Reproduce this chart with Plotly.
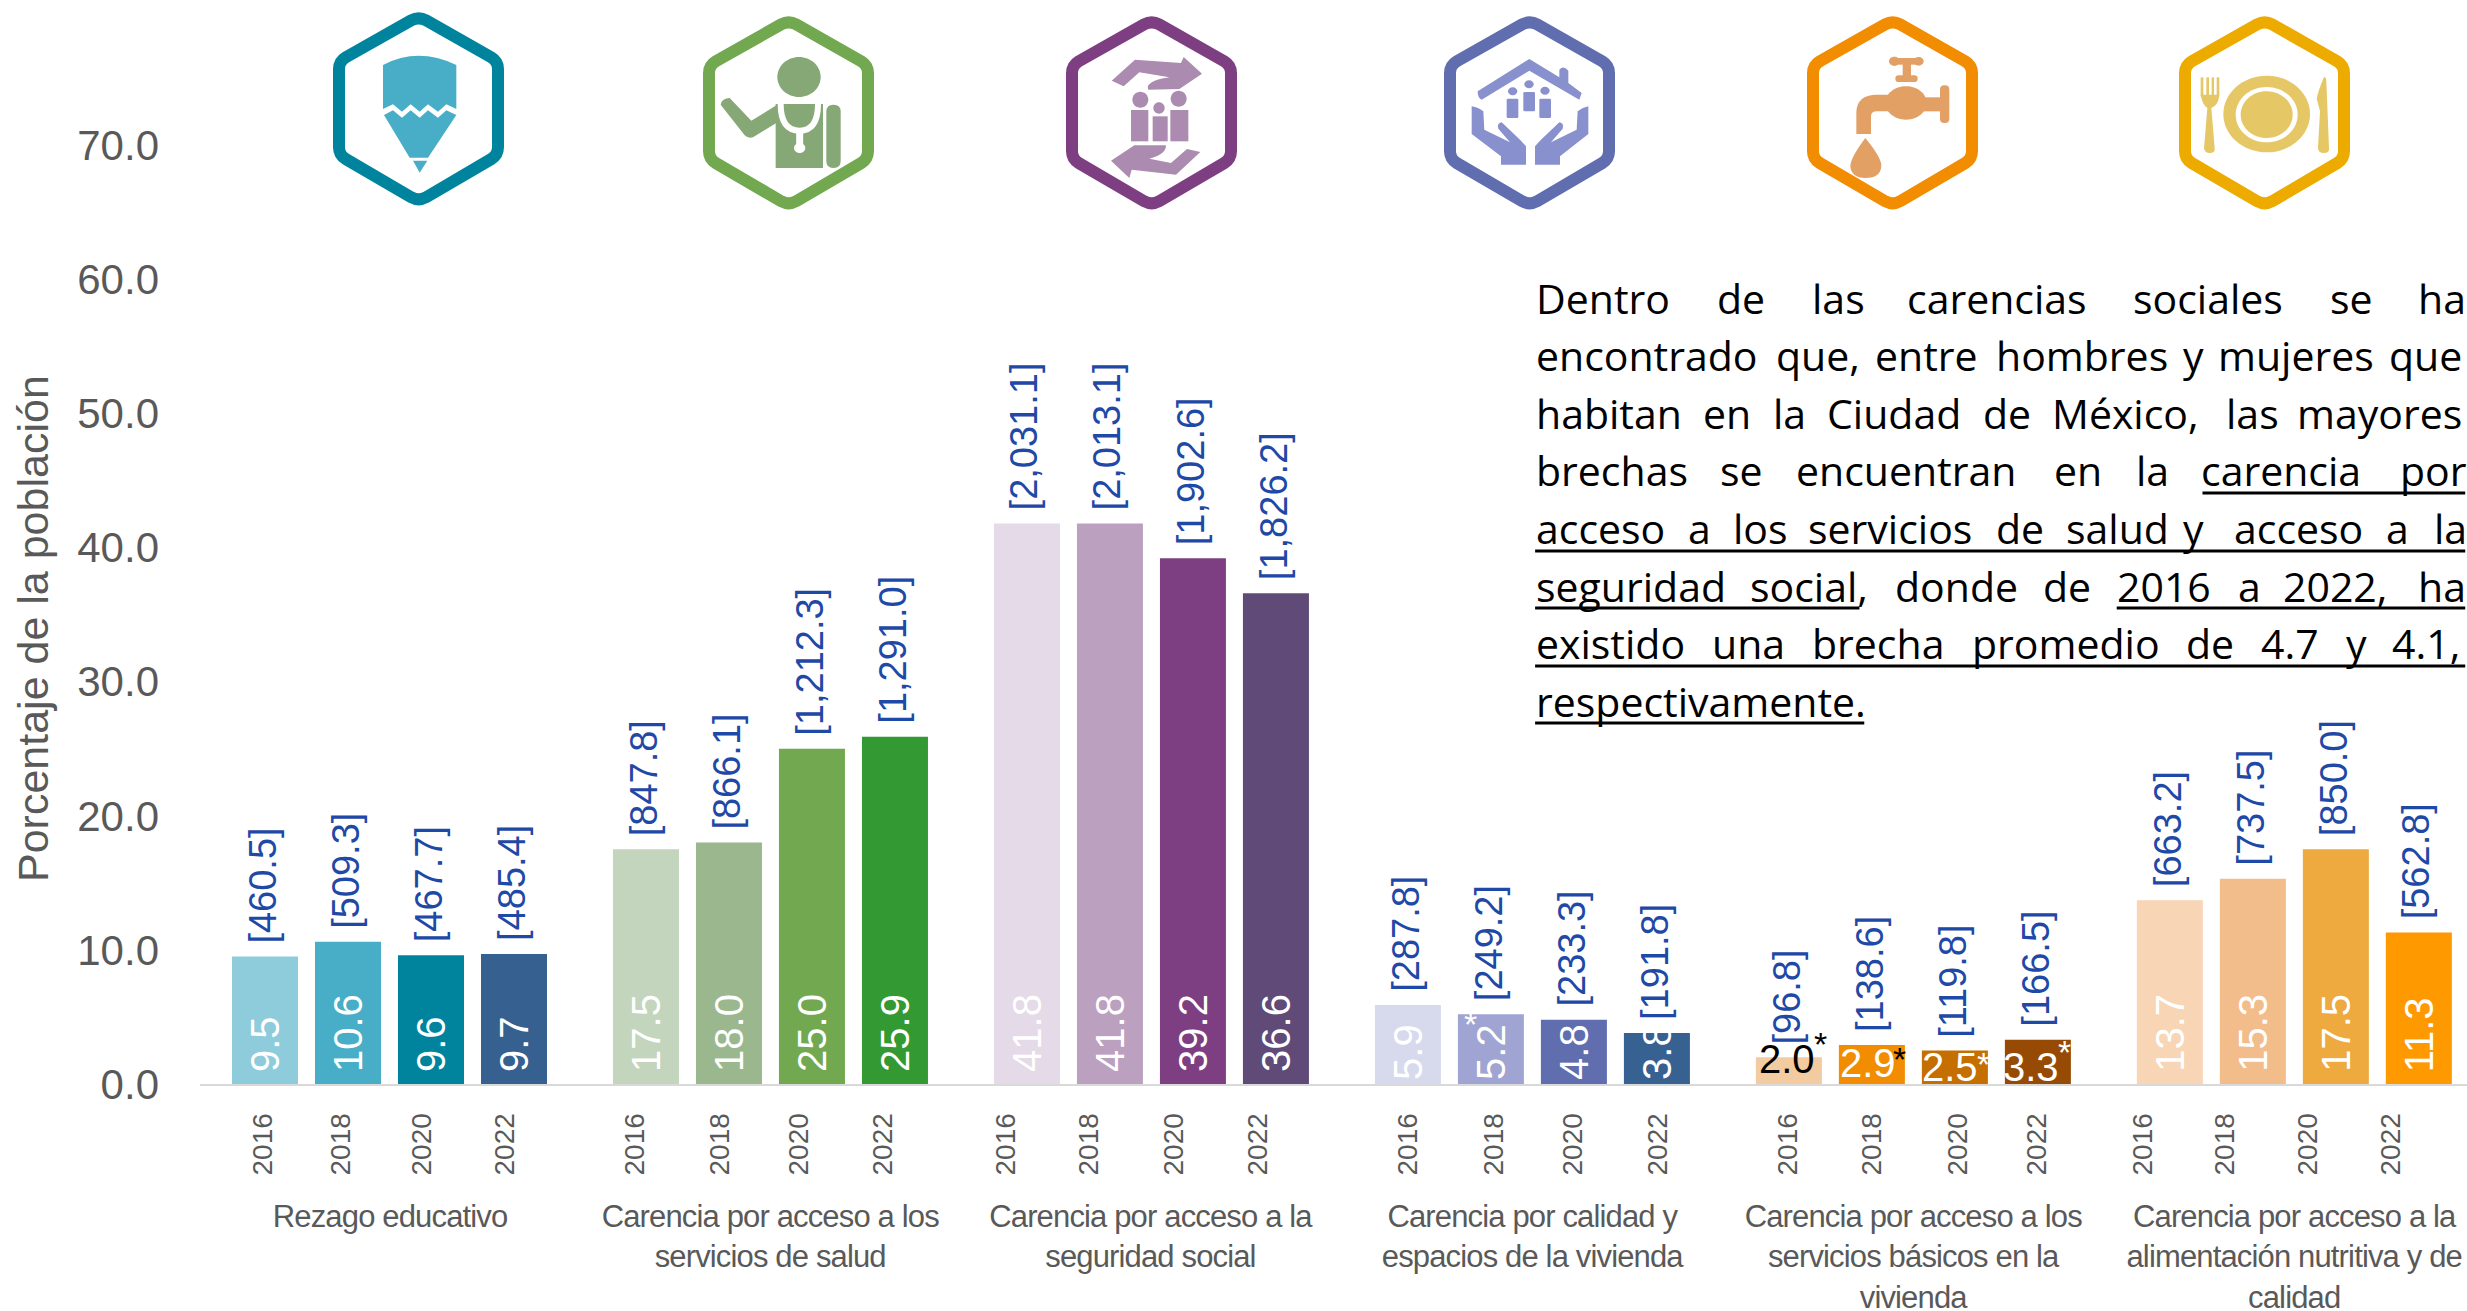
import re
import plotly.graph_objects as go

W, H = 2467, 1311
PLOT_L, PLOT_B = 200, 1084      # pixel edges of the plotting area
PX_PER_SLOT = 83.0

categories = [
    "Rezago educativo",
    "Carencia por acceso a los<br>servicios de salud",
    "Carencia por acceso a la<br>seguridad social",
    "Carencia por calidad y<br>espacios de la vivienda",
    "Carencia por acceso a los<br>servicios básicos en la<br>vivienda",
    "Carencia por acceso a la<br>alimentación nutritiva y de<br>calidad",
]
years = ["2016", "2018", "2020", "2022"]

rezago = [9.5, 10.6, 9.6, 9.7]
salud = [17.5, 18.0, 25.0, 25.9]
seguridad = [41.8, 41.8, 39.2, 36.6]
vivienda = [5.9, 5.2, 4.8, 3.8]
basicos = [2.0, 2.9, 2.5, 3.3]
alimentacion = [13.7, 15.3, 17.5, 11.3]
series = [rezago, salud, seguridad, vivienda, basicos, alimentacion]

pob_rezago = ["460.5", "509.3", "467.7", "485.4"]
pob_salud = ["847.8", "866.1", "1,212.3", "1,291.0"]
pob_seguridad = ["2,031.1", "2,013.1", "1,902.6", "1,826.2"]
pob_vivienda = ["287.8", "249.2", "233.3", "191.8"]
pob_basicos = ["96.8", "138.6", "119.8", "166.5"]
pob_alimentacion = ["663.2", "737.5", "850.0", "562.8"]
poblacion = [pob_rezago, pob_salud, pob_seguridad, pob_vivienda, pob_basicos, pob_alimentacion]

colors = [
    ["#8ECCDB", "#48AEC7", "#00849E", "#36608F"],
    ["#C3D5BC", "#9AB78D", "#72A950", "#339933"],
    ["#E4DAE8", "#BBA0BF", "#7E3F82", "#604A78"],
    ["#D7DAED", "#A0A4D2", "#606EB0", "#366190"],
    ["#F3CBA0", "#F28C00", "#C46F00", "#964A04"],
    ["#F7D5B5", "#F3BC8B", "#EEA93F", "#FF9900"],
]

GROUP_STEP = 4.59
GREY = "#595959"
BLUE = "#1F49A6"

fig = go.Figure()
annotations = []


def slot(g, j):
    return g * GROUP_STEP + j


# ----- bars
for g, vals in enumerate(series):
    fig.add_trace(go.Bar(
        x=[slot(g, j) for j in range(4)], y=vals, width=66 / PX_PER_SLOT,
        marker=dict(color=colors[g], line_width=0),
        hoverinfo="skip", showlegend=False,
    ))

# ----- value labels and population labels
base_gap = [10, 10, 10, 2, 0, 10]
for g, vals in enumerate(series):
    for j, v in enumerate(vals):
        annotations.append(dict(
            x=slot(g, j), y=v, xref="x", yref="y", yanchor="bottom", xanchor="center",
            xshift=-2, yshift=11, text=f"[{poblacion[g][j]}]", textangle=-90, showarrow=False,
            font=dict(family="Liberation Sans", size=38, color=BLUE)))
        if g == 4:
            continue
        annotations.append(dict(
            x=slot(g, j), y=0, xref="x", yref="y", yanchor="bottom", xanchor="center",
            yshift=base_gap[g], text=f"{v:.1f}", textangle=-90, showarrow=False,
            font=dict(family="Liberation Sans", size=40, color="white")))

# horizontal labels of the services group
label_colors = ["black", "white", "white", "white"]
label_shift = [(-2, 25), (-4, 21), (-5, 17), (-7, 17)]
for j, v in enumerate(basicos):
    annotations.append(dict(
        x=slot(4, j), y=0, xref="x", yref="y", yanchor="middle", xanchor="center",
        xshift=label_shift[j][0], yshift=label_shift[j][1], text=f"{v:.1f}", showarrow=False,
        font=dict(family="Liberation Sans", size=40, color=label_colors[j])))

star_colors = ["black", "black", "white", "white"]
star_shift = [(32, 40), (28, 25), (29, 20), (27, 32)]
for j, v in enumerate(basicos):
    annotations.append(dict(
        x=slot(4, j), y=0, xref="x", yref="y", yanchor="middle", xanchor="center",
        xshift=star_shift[j][0], yshift=star_shift[j][1], text="*", showarrow=False,
        font=dict(family="Liberation Sans", size=34, color=star_colors[j])))
annotations.append(dict(
    x=slot(3, 1), y=vivienda[1], xref="x", yref="y", yanchor="middle", xanchor="center",
    xshift=-20, yshift=-10, text="*", showarrow=False,
    font=dict(family="Liberation Sans", size=34, color="white")))

# ----- group names
for g, name in enumerate(categories):
    annotations.append(dict(
        x=slot(g, 1.5), y=0, xref="x", yref="y", yanchor="top", xanchor="center",
        yshift=-113, text=name, showarrow=False, align="center",
        font=dict(family="Liberation Sans", size=31, color=GREY)))

# ----- y title
annotations.append(dict(
    x=(33 - PLOT_L) / (W - PLOT_L), y=(PLOT_B - 629) / PLOT_B, xref="paper", yref="paper",
    xanchor="center", yanchor="middle", text="Porcentaje de la población", textangle=-90,
    showarrow=False, font=dict(family="Liberation Sans", size=43, color=GREY)))


# ----- paragraph (justified: one annotation per word)
def pxx(px):
    return (px - PLOT_L) / (W - PLOT_L)


def pxy(py):
    return (PLOT_B - py) / PLOT_B


par_lines = [
    "Dentro de las carencias sociales se ha",
    "encontrado que, entre hombres y mujeres que",
    "habitan en la Ciudad de México, las mayores",
    "brechas se encuentran en la carencia por",
    "acceso a los servicios de salud y acceso a la",
    "seguridad social, donde de 2016 a 2022, ha",
    "existido una brecha promedio de 4.7 y 4.1,",
    "respectivamente.",
]
word_x = [
    [28, 328, 485, 642, 1017, 1343, 1488],
    [28, 425, 590, 790, 1100, 1157, 1440],
    [28, 305, 420, 510, 768, 882, 1170, 1288],
    [28, 333, 458, 885, 1022, 1130, 1458],
    [28, 280, 355, 478, 790, 905, 1100, 1183, 1435, 1515],
    [28, 383, 622, 868, 990, 1190, 1265, 1488],
    [28, 320, 485, 750, 1105, 1228, 1370, 1445],
    [28],
]
for i, line in enumerate(par_lines):
    yc = 297.5 + 57.6 * i
    for w, zx in zip(line.split(" "), word_x[i]):
        annotations.append(dict(
            x=pxx(1517 + zx / 1.6557), y=pxy(yc), xref="paper", yref="paper",
            xanchor="left", yanchor="middle", text=w, showarrow=False,
            font=dict(family="Open Sans", size=41, color="black")))

shapes = []
underlines = [(493, 1130, 1565), (551, 25, 1565), (608, 25, 562), (608, 988, 1565),
              (666, 25, 1565), (723, 25, 570)]
for y, a, b in underlines:
    shapes.append(dict(type="line", xref="paper", yref="paper",
                       x0=pxx(1520 + a / 1.6557), x1=pxx(1520 + b / 1.6557),
                       y0=pxy(y), y1=pxy(y), line=dict(color="black", width=3)))


# ----- icons (pictograms drawn as vector shapes)
def P(x0, y0, d):
    toks = re.findall(r"[MLQCZ]|-?\d+\.?\d*", d)
    out, nums = [], []
    for t in toks:
        if t.isalpha():
            out.append(t)
        else:
            nums.append(float(t))
            if len(nums) == 2:
                out.append(f"{pxx(x0 + nums[0] / 3):.5f},{pxy(y0 + nums[1] / 3):.5f}")
                nums = []
    return " ".join(out)


def ell(cx, cy, rx, ry):
    k = 0.5523
    return (f"M {cx - rx} {cy} C {cx - rx} {cy - k * ry} {cx - k * rx} {cy - ry} {cx} {cy - ry} "
            f"C {cx + k * rx} {cy - ry} {cx + rx} {cy - k * ry} {cx + rx} {cy} "
            f"C {cx + rx} {cy + k * ry} {cx + k * rx} {cy + ry} {cx} {cy + ry} "
            f"C {cx - k * rx} {cy + ry} {cx - rx} {cy + k * ry} {cx - rx} {cy} Z")


def rect(a, b, c, d):
    return f"M {a} {b} L {c} {b} L {c} {d} L {a} {d} Z"


def rrect(a, b, c, d, r):
    return (f"M {a + r} {b} L {c - r} {b} Q {c} {b} {c} {b + r} L {c} {d - r} Q {c} {d} {c - r} {d} "
            f"L {a + r} {d} Q {a} {d} {a} {d - r} L {a} {b + r} Q {a} {b} {a + r} {b} Z")


def fill(x0, y0, d, color):
    shapes.append(dict(type="path", xref="paper", yref="paper", path=P(x0, y0, d),
                       fillcolor=color, line=dict(width=0), layer="above"))


def stroke(x0, y0, d, color, width):
    shapes.append(dict(type="path", xref="paper", yref="paper", path=P(x0, y0, d),
                       line=dict(color=color, width=width), layer="above"))


HEX = ("M 250 49 Q 272 37 294 49 L 490 160 Q 510 172 510 195 L 510 430 Q 510 453 490 465 "
       "L 294 580 Q 272 592 250 580 L 53 465 Q 33 453 33 430 L 33 195 Q 33 172 53 160 Z")

# pencil
o = (328, 5)
stroke(328, 4, HEX, "#00849E", 12)
fill(*o, "M 165 180 Q 270 125 385 180 L 385 312 L 355 298 L 330 320 L 300 298 L 275 320 L 248 298 "
         "L 222 320 L 195 298 L 165 312 Z", "#48AEC7")
fill(*o, "M 168 330 L 195 316 L 222 338 L 248 316 L 275 338 L 300 316 L 330 338 L 355 316 L 385 330 "
         "L 300 458 L 245 458 Z", "#48AEC7")
fill(*o, "M 255 467 L 298 467 L 275 503 Z", "#48AEC7")

# doctor
o = (698, 8)
c = "#85A876"
stroke(*o, HEX, "#72A950", 12)
fill(*o, ell(303, 207, 65, 60), c)
fill(*o, "M 68 290 Q 72 270 95 270 L 160 338 L 235 292 L 235 345 L 165 388 Q 150 392 140 382 Z", c)
fill(*o, rect(233, 288, 375, 480), c)
stroke(*o, "M 248 288 Q 248 368 305 368 Q 360 368 360 288", "white", 6)
stroke(*o, "M 305 368 L 305 412", "white", 7)
fill(*o, ell(305, 420, 17, 15), "white")
fill(*o, rect(375, 280, 384, 485), "white")
fill(*o, rrect(385, 290, 428, 480, 21), c)

# social security
o = (1061, 8)
c = "#AC8BB0"
stroke(*o, HEX, "#7E3F82", 12)
fill(*o, "M 152 218 L 222 155 L 360 165 L 368 147 L 423 197 L 355 243 L 262 245 Q 252 225 300 212 "
         "L 325 208 L 235 193 L 188 235 Z", c)
fill(*o, "M 150 458 L 205 510 L 212 485 L 345 500 L 418 432 L 378 423 L 330 465 L 265 452 "
         "Q 315 440 315 412 L 220 412 Z", c)
for e in [(238, 275, 24, 24), (353, 272, 24, 24), (294, 300, 17, 17)]:
    fill(*o, ell(*e), c)
for r in [(210, 306, 262, 400), (275, 325, 320, 400), (328, 306, 382, 400)]:
    fill(*o, rect(*r), c)

# housing
o = (1440, 8)
c = "#8890CE"
stroke(1439, 8, HEX, "#606EB0", 12)
fill(*o, "M 113 250 L 268 153 L 358 208 L 358 185 Q 370 170 385 188 L 385 225 L 425 255 L 418 275 "
         "L 268 188 L 125 275 Q 113 270 113 250 Z", c)
for e in [(218, 250, 14, 12), (267, 229, 14, 12), (315, 248, 14, 12)]:
    fill(*o, ell(*e), c)
for r in [(200, 272, 235, 330), (250, 252, 285, 310), (298, 272, 333, 330)]:
    fill(*o, rrect(*r, 4), c)
fill(*o, "M 95 295 L 95 378 L 183 445 L 183 470 L 258 470 L 258 415 L 240 395 L 185 343 "
         "Q 170 345 175 362 L 210 403 L 133 365 L 130 310 Q 115 298 95 295 Z", c)
fill(*o, "M 445 295 L 445 378 L 360 445 L 360 470 L 285 470 L 285 415 L 303 395 L 358 343 "
         "Q 373 345 368 362 L 333 403 L 410 365 L 413 310 Q 428 298 445 295 Z", c)

# faucet
o = (1802, 8)
c = "#E2A064"
stroke(*o, HEX, "#F28C00", 12)
fill(*o, ell(277, 160, 16, 14), c)
fill(*o, ell(350, 160, 15, 13), c)
fill(*o, rect(277, 150, 350, 170), c)
fill(*o, rect(302, 168, 327, 205), c)
fill(*o, rrect(280, 202, 347, 222, 10), c)
fill(*o, ell(312, 285, 62, 50), c)
fill(*o, "M 163 378 L 163 315 Q 163 260 225 260 L 270 260 L 270 310 L 225 310 Q 207 310 207 325 "
         "L 207 378 Z", c)
fill(*o, rect(360, 268, 420, 310), c)
fill(*o, rrect(414, 232, 442, 345, 13), c)
fill(*o, "M 190 390 Q 145 450 145 475 Q 148 510 190 510 Q 238 510 238 470 Q 235 445 190 390 Z", c)

# food
o = (2174, 8)
c = "#E6C766"
stroke(*o, HEX, "#EDAB00", 12)
fill(*o, ell(278, 318, 130, 115), c)
fill(*o, ell(278, 320, 93, 83), "white")
fill(*o, ell(278, 320, 78, 70), c)
for r in [(80, 208, 88, 265), (97, 208, 105, 265), (113, 208, 120, 265), (128, 208, 136, 265)]:
    fill(*o, rect(*r), c)
fill(*o, "M 80 260 L 136 260 Q 135 290 112 300 L 122 420 Q 125 435 107 435 Q 92 435 90 420 L 100 300 "
         "Q 85 290 80 260 Z", c)
fill(*o, "M 450 207 Q 432 250 428 272 L 438 310 L 432 420 Q 432 435 450 435 Q 467 435 465 420 "
         "L 457 220 Q 457 207 450 207 Z", c)

# ----- axes
tick_offsets = [
    [-2, -7, -9, -9], [-11, -9, -13, -12], [-21, -21, -19, -18],
    [0, 3, -1, 1], [-1, 0, 3, -1], [-27, -28, -28, -28],
]
tickvals, ticktext = [], []
for g in range(6):
    for j, yr in enumerate(years):
        tickvals.append(slot(g, j) + tick_offsets[g][j] / PX_PER_SLOT)
        ticktext.append(yr)

first_center = 265
fig.update_layout(
    width=W, height=H, autosize=False,
    margin=dict(l=PLOT_L, r=0, t=0, b=H - PLOT_B, pad=0),
    paper_bgcolor="white", plot_bgcolor="white",
    barmode="overlay", showlegend=False,
    xaxis=dict(
        range=[-(first_center - PLOT_L) / PX_PER_SLOT, (W - first_center) / PX_PER_SLOT],
        tickmode="array", tickvals=tickvals, ticktext=ticktext, tickangle=-90,
        tickfont=dict(family="Liberation Sans", size=28, color=GREY),
        ticks="", ticklabelstandoff=16, showgrid=False, zeroline=False,
        showline=True, linecolor="#D9D9D9", linewidth=2,
    ),
    yaxis=dict(
        range=[0, PLOT_B / 13.41], tickmode="array",
        tickvals=[0, 10, 20, 30, 40, 50, 60, 70],
        ticktext=["0.0", "10.0", "20.0", "30.0", "40.0", "50.0", "60.0", "70.0"],
        tickfont=dict(family="Liberation Sans", size=42, color=GREY),
        ticks="", ticklabelstandoff=40, showgrid=False, zeroline=False, showline=False,
    ),
    annotations=annotations, shapes=shapes,
)

# group names use tightened character spacing, as in the reference
post = """
document.body.style.margin='0';
document.querySelectorAll('.annotation-text').forEach(function(t){
  if (getComputedStyle(t).fontSize === '31px') { t.style.letterSpacing = '-0.85px'; }
});
"""
fig.write_html("out.html", config={"displayModeBar": False}, post_script=post)
